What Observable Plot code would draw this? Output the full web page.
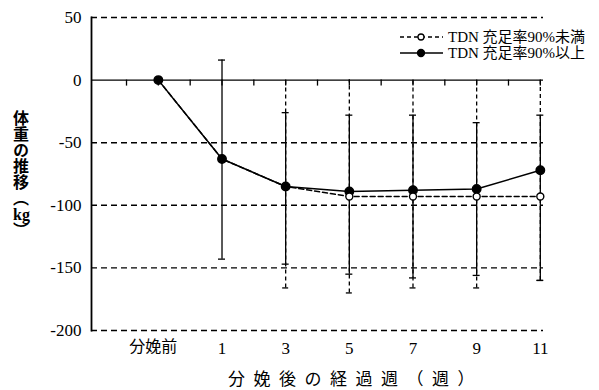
<!DOCTYPE html>
<html><head><meta charset="utf-8">
<script src="https://cdn.jsdelivr.net/npm/d3@7"></script>
<script src="https://cdn.jsdelivr.net/npm/@observablehq/plot@0.6"></script>
<style>
body{margin:0;background:#fff;}
#chart{position:relative;width:599px;height:390px;font-family:"Liberation Serif","Noto Sans CJK JP",serif;color:#000;}
#ytitle{position:absolute;left:12px;top:110px;writing-mode:vertical-rl;font-size:16px;line-height:18px;font-family:"Noto Sans CJK JP",sans-serif;font-weight:bold;}
#ytitle .kg{text-combine-upright:all;font-family:"Liberation Serif",serif;}
#xtitle{position:absolute;left:228px;top:368px;font-size:17px;letter-spacing:8.5px;font-family:"Noto Sans CJK JP",sans-serif;white-space:nowrap;line-height:20px;}
#legend{position:absolute;left:398px;top:28px;}
</style></head><body><div id="chart"></div>
<script>
// ---- data ----
const weeks = [-1, 1, 3, 5, 7, 9, 11];
const weekLabels = ["分娩前", "1", "3", "5", "7", "9", "11"];
const tickWeeks = [-2, -1, 0, 1, 2, 3, 4, 5, 6, 7, 8, 9, 10, 11];
const yTicks = [50, 0, -50, -100, -150, -200];
const gridDashed = [50, -50, -100, -150, -200];
// TDN 充足率90%以上 (solid, filled)
const highMean = [0, -63, -85, -89, -88, -87, -72];
const highLow  = [null, -143, -147, -155, -158, -156, -160];
const highUp   = [null, 16, -26, -28, -28, -34, -28];
// TDN 充足率90%未満 (dashed, open)
const lowMean = [0, -63, -85, -93, -93, -93, -93];
const lowLow  = [null, null, -166, -170, -166, -166, -160];
const lowUp   = [null, null, 0, 0, 0, 0, 0];
const seriesNames = ["TDN 充足率90%未満", "TDN 充足率90%以上"];
const xTitle = "分娩後の経過週（週）";

// ---- tables ----
const high = weeks.map((w, i) => ({w, m: highMean[i], lo: highLow[i], hi: highUp[i]}));
const low = weeks.map((w, i) => ({w, m: lowMean[i], lo: lowLow[i], hi: lowUp[i]}));
const highBars = high.filter(d => d.lo != null);
const lowBars = low.filter(d => d.lo != null);
const xLab = weeks.map((w, i) => ({w, label: weekLabels[i]}));

const plot = Plot.plot({
  width: 599, height: 390,
  marginLeft: 91, marginRight: 56, marginTop: 17, marginBottom: 60,
  x: {domain: [-3.1, 11.1], axis: null},
  y: {domain: [-200, 50], axis: null},
  style: {fontFamily: '"Liberation Serif","Noto Sans CJK JP",serif', fontSize: "17px", background: "#fff", color: "#000"},
  marks: [
    Plot.ruleY(gridDashed, {stroke: "#000", strokeWidth: 1.4, strokeDasharray: "6,4"}),
    Plot.ruleY([0], {stroke: "#000", strokeWidth: 1.4}),
    Plot.frame({anchor: "left", stroke: "#000", strokeWidth: 1.8}),
    Plot.ruleX(tickWeeks, {y1: 0, y2: 0, insetBottom: -6, stroke: "#000", strokeWidth: 1.3}),
    // error bars, <90% (dashed)
    Plot.ruleX(lowBars, {x: "w", y1: "lo", y2: "hi", stroke: "#000", strokeWidth: 1.3, strokeDasharray: "4,3"}),
    Plot.ruleY(lowBars, {x1: "w", x2: "w", y: "lo", insetLeft: -3, insetRight: -3, stroke: "#000", strokeWidth: 1.3}),
    // error bars, >=90% (solid)
    Plot.ruleX(highBars, {x: "w", y1: "lo", y2: "hi", stroke: "#000", strokeWidth: 1.3}),
    Plot.ruleY(highBars, {x1: "w", x2: "w", y: "lo", insetLeft: -3.5, insetRight: -3.5, stroke: "#000", strokeWidth: 1.3}),
    Plot.ruleY(highBars, {x1: "w", x2: "w", y: "hi", insetLeft: -3.5, insetRight: -3.5, stroke: "#000", strokeWidth: 1.3}),
    // lines
    Plot.line(low, {x: "w", y: "m", stroke: "#000", strokeWidth: 1.5, strokeDasharray: "5,3"}),
    Plot.line(high, {x: "w", y: "m", stroke: "#000", strokeWidth: 1.5}),
    Plot.dot(high, {x: "w", y: "m", r: 4.2, fill: "#000", stroke: "#000"}),
    Plot.dot(low.filter(d => d.m !== high.find(h => h.w === d.w).m), {x: "w", y: "m", r: 3.5, fill: "#fff", stroke: "#000", strokeWidth: 1.4}),
    // axes
    Plot.axisY(yTicks, {tickSize: 0, tickPadding: 10, tickFormat: d => String(d), fontSize: 17}),
    Plot.text(xLab.slice(0, 1), {x: "w", text: "label", frameAnchor: "bottom", lineAnchor: "top", dy: 10, dx: -5, fontSize: 16, fontFamily: '"Noto Sans CJK JP",sans-serif'}),
    Plot.text(xLab.slice(1), {x: "w", text: "label", frameAnchor: "bottom", lineAnchor: "top", dy: 11, fontSize: 17})
  ]
});
const chart = document.getElementById("chart");
chart.appendChild(plot);

// y title
const yt = document.createElement("div");
yt.id = "ytitle";
yt.innerHTML = '体重の推移（<span class="kg">kg</span>）';
chart.appendChild(yt);

// x title
const xt = document.createElement("div");
xt.id = "xtitle";
xt.textContent = xTitle;
chart.appendChild(xt);

// legend
const lg = d3.select(chart).append("svg").attr("id", "legend").attr("width", 200).attr("height", 34)
  .style("font-family", '"Liberation Serif","Noto Sans CJK JP",serif').style("font-size", "15px");
const rows = [{y: 9, dash: "4,3", fill: "#fff", r: 3}, {y: 25, dash: null, fill: "#000", r: 3.5}];
rows.forEach((r, i) => {
  lg.append("line").attr("x1", 2).attr("x2", 45).attr("y1", r.y).attr("y2", r.y)
    .attr("stroke", "#000").attr("stroke-width", 1.4).attr("stroke-dasharray", r.dash);
  lg.append("circle").attr("cx", 23).attr("cy", r.y).attr("r", r.r).attr("fill", r.fill).attr("stroke", "#000").attr("stroke-width", 1.3);
  lg.append("text").attr("x", 50).attr("y", r.y).attr("dy", "0.35em").text(seriesNames[i]);
});
</script></body></html>
